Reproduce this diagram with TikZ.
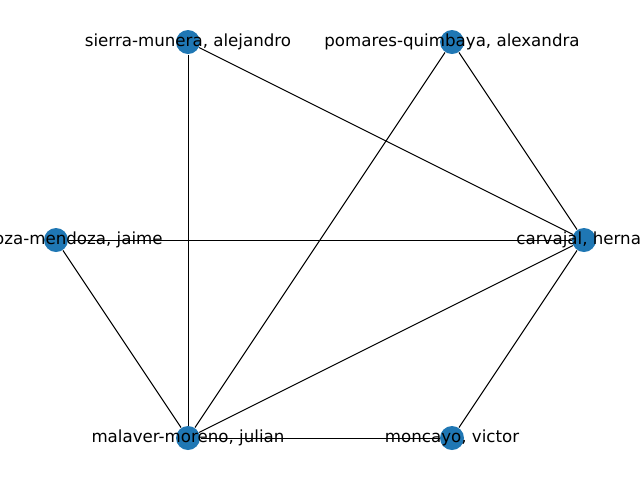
\documentclass[tikz,border=0pt]{standalone}
\usepackage{fontspec}
\setmainfont{DejaVu Sans}
\usepackage{tikz}
\usetikzlibrary{shapes,positioning}
\definecolor{nodeblue}{HTML}{1F77B4}

\begin{document}
\begin{tikzpicture}[x=0.75pt,y=-0.75pt,
  person/.style={circle,fill=nodeblue,minimum size=18pt,inner sep=0pt},
  personlabel/.style={font=\fontsize{12.5pt}{14pt}\selectfont,inner sep=0pt},
  line width=0.75pt]
\useasboundingbox (0,0) rectangle (640,480);
\clip (0,0) rectangle (640,480);
\node[person](SM) at (188,42) {};
\node[person](PQ) at (452,42) {};
\node[person](EM) at (56,240) {};
\node[person](CH) at (584,240) {};
\node[person](MM) at (188,438) {};
\node[person](MV) at (452,438) {};
\draw (SM) to (CH);
\draw (SM) to (MM);
\draw (PQ) to (CH);
\draw (PQ) to (MM);
\draw (EM) to (CH);
\draw (EM) to (MM);
\draw (MM) to (CH);
\draw (MM) to (MV);
\draw (MV) to (CH);
\node[personlabel] at (SM) {sierra-munera, alejandro};
\node[personlabel] at (PQ) {pomares-quimbaya, alexandra};
\node[personlabel] at (EM) {espinoza-mendoza, jaime};
\node[personlabel] at (CH) {carvajal, hernan};
\node[personlabel] at (MM) {malaver-moreno, julian};
\node[personlabel] at (MV) {moncayo, victor};
\end{tikzpicture}
\end{document}
